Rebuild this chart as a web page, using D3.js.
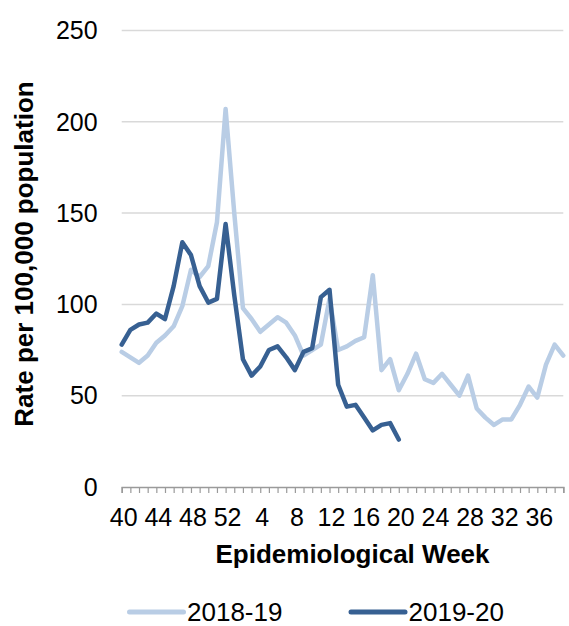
<!DOCTYPE html>
<html>
<head>
<meta charset="utf-8">
<script src="https://cdn.jsdelivr.net/npm/d3@7"></script>
<style>
  body { margin: 0; background: #fff; }
  text { font-family: "Liberation Sans", Arial, sans-serif; fill: #000; }
</style>
</head>
<body>
<div id="chart"></div>
<script>
// weeks of the season, 40..52 then 1..39
let weeks = d3.range(40, 53).concat(d3.range(1, 40));
let tickWeeks = [40, 44, 48, 52, 4, 8, 12, 16, 20, 24, 28, 32, 36];
let yTicks = [0, 50, 100, 150, 200, 250];

let rate1819 = [74, 71, 68, 72, 79, 83, 88, 99, 119, 115, 121, 145, 207,
  150, 98, 92, 85, 89, 93, 90, 83, 72, 75, 78, 103, 75, 77, 80, 82, 116,
  64, 70, 53, 62, 73, 59, 57, 62, 56, 50, 61, 43, 38, 34, 37, 37, 45, 55,
  49, 67, 78, 72];
let rate1920 = [78, 86, 89, 90, 95, 92, 110, 134, 127, 110, 101, 103, 144,
  105, 70, 61, 66, 75, 77, 71, 64, 74, 76, 104, 108, 56, 44, 45, 38, 31,
  34, 35, 26];

let series = [
  {name: "2018-19", values: rate1819, color: "#b9cde5"},
  {name: "2019-20", values: rate1920, color: "#376092"}
];

let width = 569, height = 626;
let margin = {top: 30.5, right: 5.7, bottom: 139, left: 121.7};

let svg = d3.select("#chart")
    .append("svg")
    .attr("width", width)
    .attr("height", height);

let x = d3.scaleLinear()
    .domain([0, weeks.length - 1])
    .range([margin.left, width - margin.right]);

let y = d3.scaleLinear()
    .domain([0, 250])
    .range([height - margin.bottom, margin.top]);

// gridlines
svg.selectAll(".grid")
    .data(yTicks.filter(d => d > 0))
    .enter()
    .append("line")
    .attr("class", "grid")
    .attr("x1", x.range()[0])
    .attr("x2", x.range()[1])
    .attr("y1", d => y(d))
    .attr("y2", d => y(d))
    .attr("stroke", "#d9d9d9")
    .attr("stroke-width", 1.5);

// y axis labels
svg.selectAll(".ylab")
    .data(yTicks)
    .enter()
    .append("text")
    .attr("class", "ylab")
    .attr("x", 97.7)
    .attr("y", d => y(d))
    .attr("dy", "0.35em")
    .attr("text-anchor", "end")
    .style("font-size", "25px")
    .text(d => d);

// x axis with a tick for every week
let xAxis = d3.axisBottom(x)
    .tickValues(d3.range(weeks.length))
    .tickSize(6)
    .tickFormat("");

let gx = svg.append("g")
    .attr("transform", "translate(0," + y(0) + ")")
    .call(xAxis);
gx.select(".domain").attr("stroke", "#9a9a9a").attr("stroke-width", 1.5);
gx.selectAll(".tick line").attr("stroke", "#9a9a9a").attr("stroke-width", 1.2);

svg.selectAll(".xlab")
    .data(tickWeeks)
    .enter()
    .append("text")
    .attr("class", "xlab")
    .attr("x", d => x(weeks.indexOf(d)) + 2)
    .attr("y", 526)
    .attr("text-anchor", "middle")
    .style("font-size", "25px")
    .text(d => d);

// lines
let line = d3.line()
    .x((d, i) => x(i))
    .y(d => y(d));

svg.selectAll(".series")
    .data(series)
    .enter()
    .append("path")
    .attr("class", "series")
    .attr("d", d => line(d.values))
    .attr("fill", "none")
    .attr("stroke", d => d.color)
    .attr("stroke-width", 4.5)
    .attr("stroke-linejoin", "round")
    .attr("stroke-linecap", "round");

// axis titles
svg.append("text")
    .attr("transform", "translate(33,254) rotate(-90)")
    .attr("text-anchor", "middle")
    .style("font-size", "26px")
    .style("font-weight", "bold")
    .text("Rate per 100,000 population");

svg.append("text")
    .attr("x", 352.5)
    .attr("y", 563)
    .attr("text-anchor", "middle")
    .style("font-size", "26px")
    .style("font-weight", "bold")
    .text("Epidemiological Week");

// legend
let legendX = [129.5, 351];
let legend = svg.selectAll(".legend")
    .data(series)
    .enter()
    .append("g")
    .attr("class", "legend")
    .attr("transform", (d, i) => "translate(" + legendX[i] + ",612)");

legend.append("line")
    .attr("x1", 0)
    .attr("x2", 54)
    .attr("stroke", d => d.color)
    .attr("stroke-width", 5)
    .attr("stroke-linecap", "round");

legend.append("text")
    .attr("x", 57.5)
    .attr("y", 9)
    .style("font-size", "26px")
    .text(d => d.name);
</script>
</body>
</html>
